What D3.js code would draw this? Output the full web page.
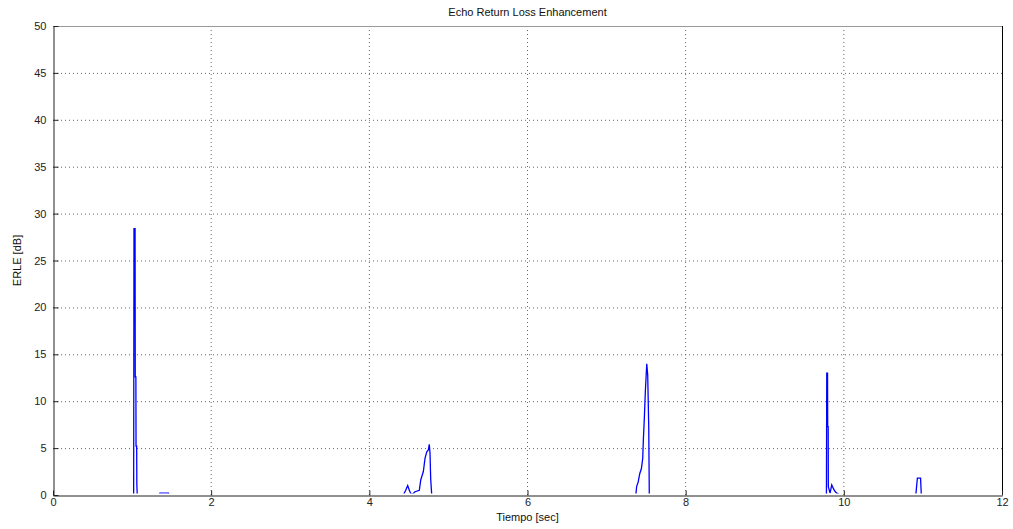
<!DOCTYPE html>
<html><head><meta charset="utf-8">
<script src="https://cdn.jsdelivr.net/npm/d3@7"></script>
<style>body{margin:0;background:#fff}text{font-family:"Liberation Sans",Arial,sans-serif}</style>
</head><body><svg id="c" width="1013" height="529"></svg>
<script>
const title = "Echo Return Loss Enhancement";
const xLabel = "Tiempo [sec]";
const yLabel = "ERLE [dB]";
const xTicks = [0,2,4,6,8,10,12];
const yTicks = [0,5,10,15,20,25,30,35,40,45,50];
const timeSec = [0,1.02,1.024,1.038,1.04,1.048,1.05,1.058,1.06,1.065,1.35,1.352,1.46,1.462,
  4.43,4.46,4.485,4.51,4.536,4.578,4.632,4.65,4.683,4.704,4.726,4.746,4.758,4.767,4.776,4.789,
  7.37,7.38,7.40,7.42,7.44,7.457,7.465,7.478,7.49,7.508,7.52,7.533,7.54,
  9.78,9.784,9.794,9.796,9.802,9.804,9.826,9.847,9.867,9.888,9.91,9.952,
  10.91,10.93,10.97,10.98,12];
const erleDb = [0,0,28.4,28.4,12.6,12.6,5.2,5.2,1.2,0,0,0.2,0.2,0,
  0,0.5,1.0,0.4,0,0.35,0.5,1.6,2.5,3.9,4.6,4.8,5.4,4.5,1.7,0,
  0,0.9,1.4,2.3,2.8,3.9,5.9,8.3,11.0,14.0,12.8,7.3,0,
  0,13.0,13.0,7.3,7.3,0.9,0.2,1.07,0.7,0.4,0.2,0,
  0,1.8,1.8,0,0];

const svg = d3.select("#c");
const L=53, R=1002, T=26, B=495;
const x = d3.scaleLinear().domain([0,12]).range([L,R]);
const y = d3.scaleLinear().domain([0,50]).range([B,T]);

svg.append("defs").append("clipPath").attr("id","clip").append("rect")
  .attr("x",L).attr("y",T).attr("width",R-L).attr("height",B-T-1.4);

// grid
const g = svg.append("g");
xTicks.slice(1,-1).forEach(v=>g.append("line").attr("x1",x(v)).attr("x2",x(v)).attr("y1",T).attr("y2",B)
  .attr("stroke","#666").attr("stroke-width",1).attr("stroke-dasharray","1,3"));
yTicks.slice(1,-1).forEach(v=>g.append("line").attr("y1",y(v)+0.5).attr("y2",y(v)+0.5).attr("x1",L).attr("x2",R)
  .attr("stroke","#666").attr("stroke-width",1).attr("stroke-dasharray","1,3"));

// data
const pts = timeSec.map((t,i)=>[t,erleDb[i]]);
svg.append("path").datum(pts).attr("clip-path","url(#clip)").attr("fill","none").attr("stroke","#0000ff").attr("stroke-width",1.3)
  .attr("d", d3.line().x(d=>x(d[0])).y(d=>y(d[1])));

// frame
svg.append("line").attr("x1",L).attr("x2",R).attr("y1",T+0.5).attr("y2",T+0.5).attr("stroke","#999");
svg.append("line").attr("x1",R+0.5).attr("x2",R+0.5).attr("y1",T).attr("y2",B).attr("stroke","#000");

const xa = svg.append("g").attr("transform",`translate(0,${B+0.5})`)
  .call(d3.axisBottom(x).tickValues(xTicks).tickSizeInner(-5).tickSizeOuter(0).tickPadding(3));
const ya = svg.append("g").attr("transform",`translate(${L+0.5},0)`)
  .call(d3.axisLeft(y).tickValues(yTicks).tickSizeInner(-5).tickSizeOuter(0).tickPadding(7));
[xa,ya].forEach(a=>{a.select(".domain").attr("stroke","#222");a.selectAll(".tick line").attr("stroke","#222");
  a.selectAll("text").attr("font-size",11).attr("fill","#222");});

svg.append("text").attr("x",(L+R)/2).attr("y",16).attr("text-anchor","middle").attr("font-size",11).attr("fill","#111").text(title);
svg.append("text").attr("x",(L+R)/2).attr("y",521).attr("text-anchor","middle").attr("font-size",11).attr("fill","#111").text(xLabel);
svg.append("text").attr("transform",`translate(21,${(T+B)/2}) rotate(-90)`).attr("text-anchor","middle").attr("font-size",11).attr("fill","#111").text(yLabel);
</script></body></html>
